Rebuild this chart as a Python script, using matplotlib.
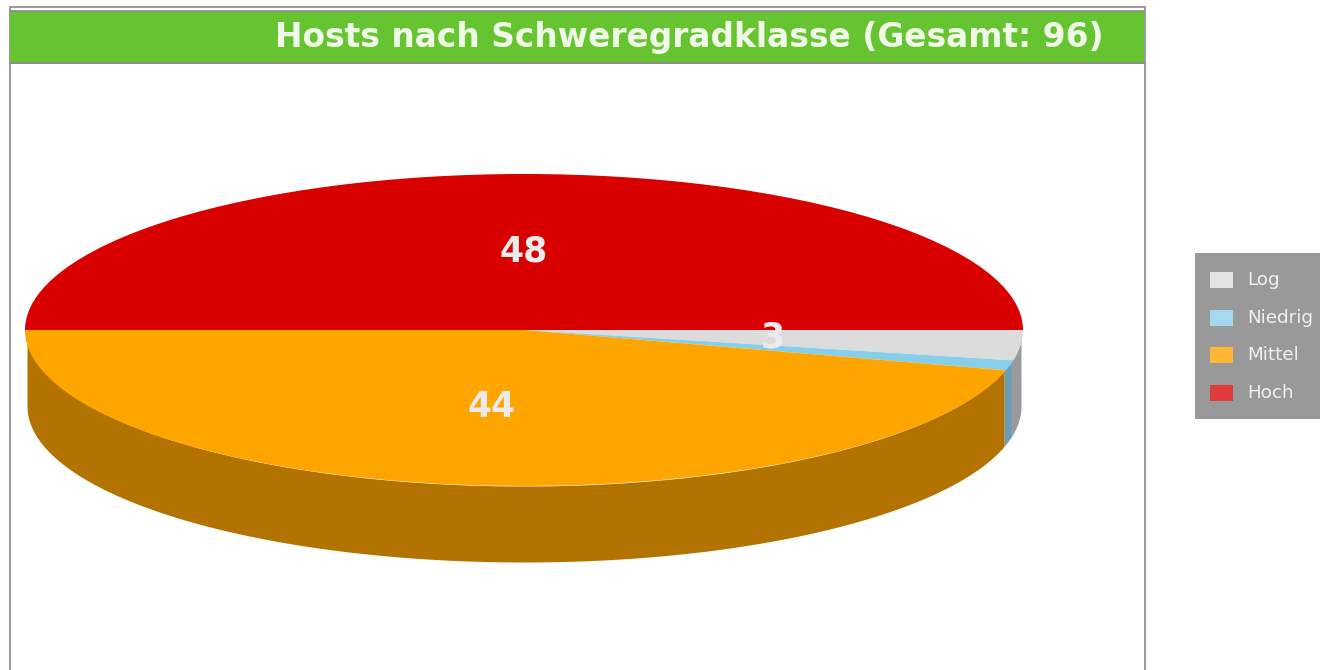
import numpy as np
import matplotlib
matplotlib.use('Agg')
import matplotlib.pyplot as plt
from matplotlib.patches import Rectangle

title = 'Hosts nach Schweregradklasse (Gesamt: 96)'
categories = ['Log', 'Niedrig', 'Mittel', 'Hoch']
values = [3, 1, 44, 48]
top_colors = ['#DCDCDC', '#87CEEB', '#FFA500', '#D90000']
side_colors = ['#9A9A9A', '#6A9DB5', '#B37300', '#990000']
legend_colors = ['#E3E3E3', '#A5D8EF', '#FFB733', '#E13B3B']

W, H = 1320, 670
cx, cy, rx, ry, depth = 524, 330, 499, 156, 76

plt.rcParams['font.family'] = ['DejaVu Sans']
fig = plt.figure(figsize=(W / 100, H / 100), dpi=100, facecolor='white')

# background panel in pixel coordinates
bg = fig.add_axes([0, 0, 1, 1])
bg.set_xlim(0, W)
bg.set_ylim(H, 0)
bg.axis('off')
bg.add_patch(Rectangle((9.5, 6.5), 1135, 700, fc='white', ec='#999999', lw=1.4))
bg.add_patch(Rectangle((10, 11), 1134, 51, fc='#66C430', ec='none'))
bg.plot([10, 1144], [10.5, 10.5], color='#8A8A8A', lw=1.2)
bg.plot([10, 1144], [62.5, 62.5], color='#8A8A8A', lw=1.4)
bg.text(1104, 38, title, color='#F0F9E8', fontsize=23.7, fontweight='bold',
        ha='right', va='center')

# legend box
bg.add_patch(Rectangle((1195, 253), 125, 166, fc='#999999', ec='none'))
for i, (name, col) in enumerate(zip(categories, legend_colors)):
    y = 280 + i * 37.7
    bg.add_patch(Rectangle((1210, y - 8), 23, 16, fc=col, ec='none'))
    bg.text(1247, y, name, color='#F0F0F0', fontsize=13.2, ha='left', va='center')

# pie axes, scaled so the unit circle lands on the flattened ellipse
ax = fig.add_axes([0, 0, 1, 1])
ax.patch.set_alpha(0)

# side wall, one band per slice in the front half, a touch inside the top rim
angles = np.cumsum([0] + values) / sum(values) * 360
d = depth / ry
inset = 0.996
for i in range(len(values)):
    a0, a1 = angles[i], min(angles[i + 1], 180)
    if a0 >= 180:
        continue
    t = np.radians(np.linspace(a0, a1, 200))
    ax.fill_between(inset * np.cos(t), -np.sin(t), -np.sin(t) - d,
                    color=side_colors[i], lw=0)

ax.pie(values, colors=top_colors, startangle=0, counterclock=False, radius=1,
       wedgeprops={'linewidth': 0})
ax.set_aspect('auto')
ax.set_xlim(-cx / rx, (W - cx) / rx)
ax.set_ylim((cy - H) / ry, cy / ry)
ax.axis('off')

# value labels halfway along each slice, smallest one has none
for i, v in enumerate(values):
    if v < 3:
        continue
    mid = np.radians((angles[i] + angles[i + 1]) / 2)
    ax.text(0.5 * np.cos(mid), -0.5 * np.sin(mid), str(v), color='#EBEBEB',
            fontsize=25, fontweight='bold', ha='center', va='center')

fig.savefig('out.png', dpi=100)
